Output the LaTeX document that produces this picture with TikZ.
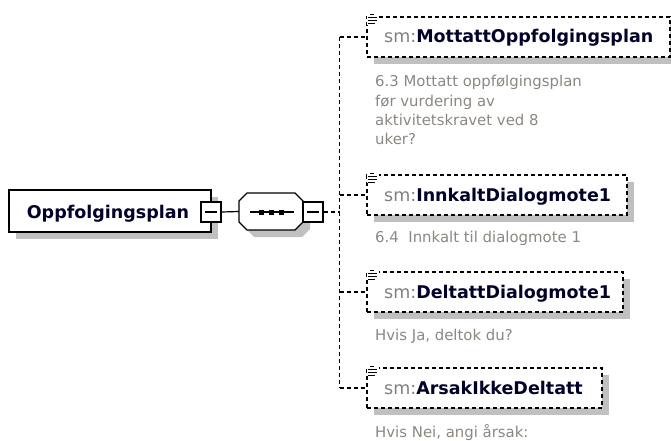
\documentclass[tikz,border=0pt]{standalone}
\usepackage{fontspec}
\setmainfont{DejaVu Sans}
\usetikzlibrary{shadows}
\definecolor{shadowgray}{RGB}{192,192,192}
\definecolor{prefixgray}{RGB}{128,128,128}
\definecolor{namecol}{RGB}{0,0,40}
\definecolor{desccol}{RGB}{140,135,128}
\tikzset{
  boxshadow/.style={drop shadow={shadow xshift=7pt,shadow yshift=-7pt,fill=shadowgray,opacity=1}},
  rootbox/.style={draw=black,line width=1.2pt,fill=white,rectangle,inner sep=0pt,boxshadow},
  childbox/.style={draw=black,line width=1.2pt,fill=white,rectangle,inner sep=0pt,
    dash pattern=on 4pt off 3pt,boxshadow},
  seqbox/.style={rectangle,inner sep=0pt,minimum width=64pt,minimum height=37pt},
  minusbox/.style={draw=black,line width=1.2pt,fill=white,rectangle,inner sep=0pt,minimum size=20pt},
  nametext/.style={inner sep=0pt,anchor=base west,font=\fontsize{17.5}{21}\selectfont,text=namecol},
  desctext/.style={inner sep=0pt,anchor=base west,font=\fontsize{14.9}{19.3}\selectfont,text=desccol},
  conn/.style={draw=black,line width=1.2pt},
  dconn/.style={draw=black,line width=1.2pt,dash pattern=on 4pt off 3pt},
}
\begin{document}
\begin{tikzpicture}[x=1pt,y=-1pt]
\useasboundingbox (0,0) rectangle (671,441);
% root
\node[rootbox,minimum width=202pt,minimum height=42pt] (root) at (110,211) {};
\node[inner sep=0pt,anchor=base,font=\fontsize{17.5}{21}\selectfont\bfseries,text=namecol] (roottext) at (108,218) {Oppfolgingsplan};
\node[minusbox] (rootminus) at (211,212) {};
\draw[line width=2pt] ([xshift=-0.5pt]rootminus.north east) -- ([xshift=-0.5pt,yshift=0.5pt]rootminus.south east) -- ([yshift=0.5pt]rootminus.south west);
\draw[line width=1.2pt] ([xshift=-6pt]rootminus.center) -- ([xshift=6pt]rootminus.center);
% sequence (octagon)
\node[seqbox] (seq) at (271,211.5) {};
\fill[shadowgray,shift={(7,7)}] (247,193) -- (295,193) -- (303,201) -- (303,222) -- (295,230) -- (247,230) -- (239,222) -- (239,201) -- cycle;
\filldraw[fill=white,draw=black,line width=1.2pt] (247,193) -- (295,193) -- (303,201) -- (303,222) -- (295,230) -- (247,230) -- (239,222) -- (239,201) -- cycle;
\coordinate (sl) at (250,212);
\coordinate (sr) at (294,212);
\draw[line width=1.2pt] (sl) -- (sr);
\foreach \x in {261,271,281} \fill (\x-2.5,209.5) rectangle (\x+2.5,214.5);
\node[minusbox] (seqminus) at (313,212) {};
\draw[line width=2pt] ([xshift=-0.5pt]seqminus.north east) -- ([xshift=-0.5pt,yshift=0.5pt]seqminus.south east) -- ([yshift=0.5pt]seqminus.south west);
\draw[line width=1.2pt] ([xshift=-6pt]seqminus.center) -- ([xshift=6pt]seqminus.center);
\draw[conn] (rootminus.east) -- (seq.west);
% children boxes
\node[childbox,minimum width=303pt,minimum height=40pt] (c1) at (518.5,37) {};
\node[childbox,minimum width=260pt,minimum height=40pt] (c2) at (497,195) {};
\node[childbox,minimum width=256pt,minimum height=40pt] (c3) at (495,292) {};
\node[childbox,minimum width=235pt,minimum height=40pt] (c4) at (484.5,388) {};
% icons
\foreach \n in {c1,c2,c3,c4}{
  \begin{scope}[shift={(\n.north west)}]
    \fill[white] (1,-3) rectangle (13,9);
    \draw[line width=0.8pt] (4,-1.5) -- (8,-1.5);
    \draw[line width=0.8pt] (2,1.5) -- (11,1.5);
    \draw[line width=0.8pt] (2,4.5) -- (11,4.5);
    \draw[line width=0.8pt] (2,7.5) -- (9,7.5);
  \end{scope}
}
% connectors
\coordinate (j) at (339.5,212);
\coordinate (v1) at (339.5,37);
\coordinate (v2) at (339.5,195);
\coordinate (v3) at (339.5,292);
\coordinate (v4) at (339.5,388);
\draw[dconn] (seqminus.east) -- (j);
\draw[dconn] (v1) -- (v4);
\draw[dconn] (v1) -- (c1.west);
\draw[dconn] (v2) -- (c2.west);
\draw[dconn] (v3) -- (c3.west);
\draw[dconn] (v4) -- (c4.west);
% names
\node[nametext] (n1) at (384,43) {\textcolor{prefixgray}{sm:}\textbf{MottattOppfolgingsplan}};
\node[nametext] (n2) at (384,201) {\textcolor{prefixgray}{sm:}\textbf{InnkaltDialogmote1}};
\node[nametext] (n3) at (384,298) {\textcolor{prefixgray}{sm:}\textbf{DeltattDialogmote1}};
\node[nametext] (n4) at (384,394) {\textcolor{prefixgray}{sm:}\textbf{ArsakIkkeDeltatt}};
% descriptions
\node[desctext] (d1) at (375,87) {\vtop{\hbox{6.3 Mottatt oppfølgingsplan}\hbox{før vurdering av}\hbox{aktivitetskravet ved 8}\hbox{uker?}}};
\node[desctext] (d2) at (375,242) {6.4\ \ Innkalt til dialogmote 1};
\node[desctext] (d3) at (375,340) {Hvis Ja, deltok du?};
\node[desctext] (d4) at (375,437) {Hvis Nei, angi årsak:};
\end{tikzpicture}
\end{document}
